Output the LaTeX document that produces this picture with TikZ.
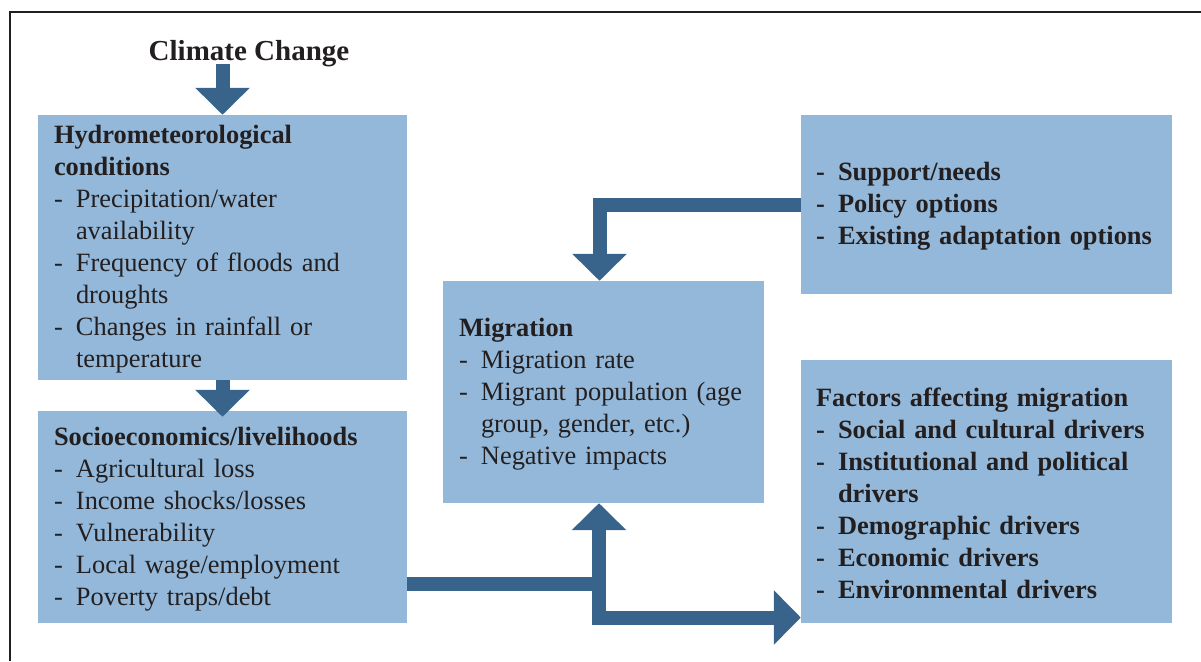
\documentclass[tikz,border=0pt]{standalone}
\usepackage{fontspec}
\setmainfont{Liberation Serif}
\usetikzlibrary{arrows.meta,positioning,calc}

\definecolor{boxblue}{HTML}{93B8D9}
\definecolor{flowblue}{HTML}{38648B}
\definecolor{ink}{HTML}{231F20}

\hyphenpenalty=10000
\newcommand{\dashitem}{\makebox[22pt][l]{-}}
\newcommand{\contline}{\hspace*{22pt}}

\begin{document}
\begin{tikzpicture}[x=1pt,y=-1pt,
    box/.style={fill=boxblue, text=ink, align=left, inner xsep=16pt, inner ysep=0pt,
      font=\fontsize{26.4}{32}\selectfont, execute at begin node=\strut},
    flowline/.style={draw=flowblue, line width=14pt},
    flowtip/.style={-{Triangle[width=53pt,length=27pt]}}
  ]
  \useasboundingbox (0,0) rectangle (1201,661);
  % frame
  \draw[ink, line width=1.3pt] (10,661) -- (10,12) -- (1201,12);

  % left column
  \node[anchor=base, text=ink, font=\bfseries\fontsize{29}{34}\selectfont] (cc) at (249,60) {Climate Change};
  \node[box, minimum width=369pt, minimum height=265pt, text width=337pt] (hyd) at (222.5,247.5)
    {\textbf{Hydrometeorological}\\
     \textbf{conditions}\\
     \dashitem Precipitation/water\\
     \contline availability\\
     \dashitem Frequency of floods and\\
     \contline droughts\\
     \dashitem Changes in rainfall or\\
     \contline temperature};
  \node[box, minimum width=369pt, minimum height=212pt, text width=337pt] (soc) at (222.5,517)
    {\textbf{Socioeconomics/livelihoods}\\
     \dashitem Agricultural loss\\
     \dashitem Income shocks/losses\\
     \dashitem Vulnerability\\
     \dashitem Local wage/employment\\
     \dashitem Poverty traps/debt};

  % middle
  \node[box, minimum width=321pt, minimum height=222pt, text width=289pt] (mig) at (603.5,392)
    {\textbf{Migration}\\
     \dashitem Migration rate\\
     \dashitem Migrant population (age\\
     \contline group, gender, etc.)\\
     \dashitem Negative impacts};

  % right column
  \node[box, inner xsep=15pt, minimum width=371pt, minimum height=179pt, text width=341pt] (sup) at (986.5,204.5)
    {\bfseries
     \dashitem Support/needs\\
     \dashitem Policy options\\
     \dashitem Existing adaptation options};
  \node[box, inner xsep=15pt, minimum width=371pt, minimum height=263pt, text width=341pt] (fac) at (986.5,491.5)
    {\bfseries
     Factors affecting migration\\
     \dashitem Social and cultural drivers\\
     \dashitem Institutional and political\\
     \contline drivers\\
     \dashitem Demographic drivers\\
     \dashitem Economic drivers\\
     \dashitem Environmental drivers};

  % arrows
  \draw[flowline, flowtip] (hyd.north |- 0,64) -- (hyd.north);
  \draw[flowline, flowtip] (hyd.south) -- ([yshift=-6pt]soc.north);
  \draw[flowline, flowtip] (sup.west) -| ([xshift=-4pt]mig.north);

  \coordinate (split) at (599,583.5);
  \coordinate (bend) at (599,617.5);
  \draw[flowline] (soc.east |- split) -- (split);
  \draw[flowline, {Triangle[width=53pt,length=27pt]}-{Triangle[width=53pt,length=27pt]}]
    (mig.south -| bend) -- (bend) -- (fac.west |- bend);
\end{tikzpicture}
\end{document}
